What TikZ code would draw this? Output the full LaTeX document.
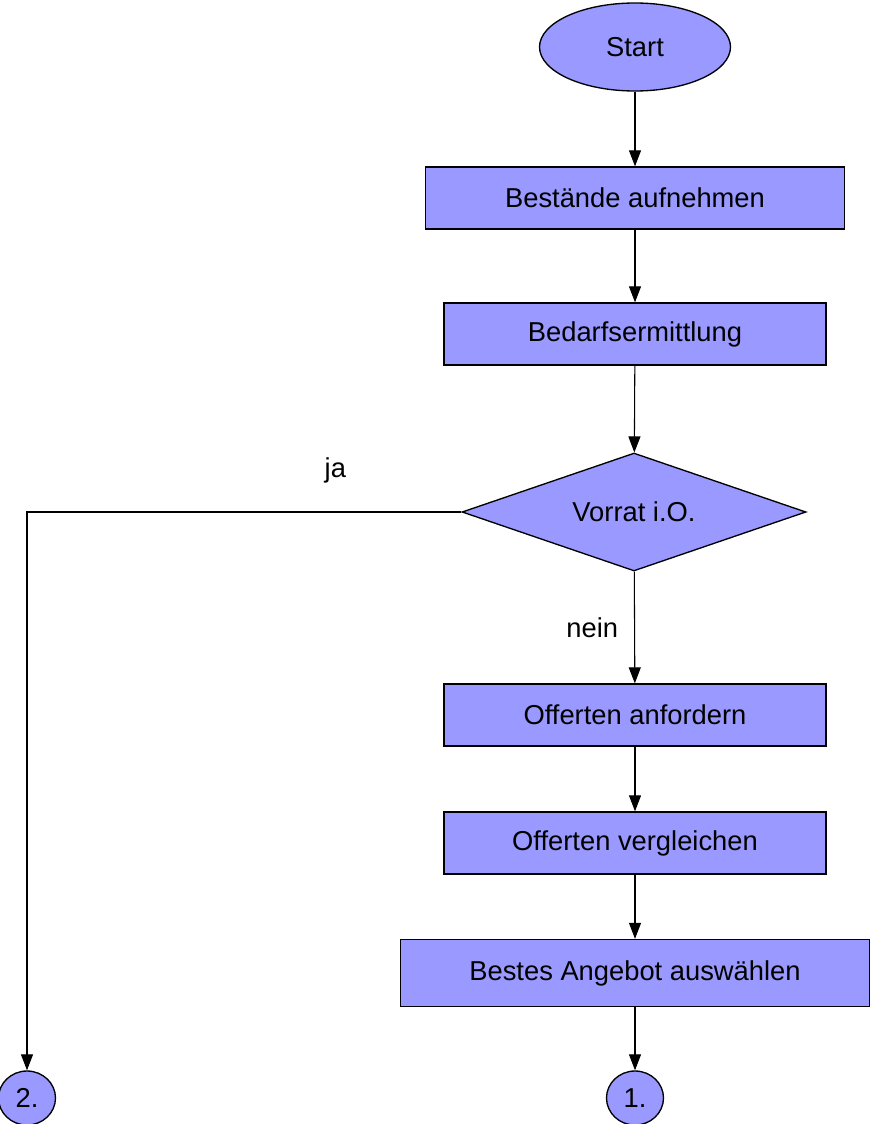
\documentclass[tikz,border=0pt]{standalone}
\usepackage{fontspec}
\setmainfont{Liberation Sans}
\usetikzlibrary{shapes.geometric,arrows.meta}
\definecolor{fillblau}{HTML}{9999FF}
\begin{document}
\begin{tikzpicture}[x=0.75pt, y=-0.75pt,
    every node/.style={font=\fontsize{20.5}{24}\selectfont},
    schritt/.style={rectangle, draw, fill=fillblau, line width=1pt,
      inner sep=0pt, minimum height=46.5pt},
    marke/.style={ellipse, draw, fill=fillblau, line width=1pt, inner sep=0pt},
    frage/.style={diamond, draw, fill=fillblau, line width=1pt, inner sep=0pt,
      aspect=2.9, minimum width=258pt, minimum height=88.5pt},
    lbl/.style={inner sep=0pt}]
  \useasboundingbox (0,0) rectangle (870,1124);
  % Ablauf
  \node[marke, minimum width=143.25pt, minimum height=66pt] (start) at (635,47) {Start};
  \node[schritt, minimum width=314.25pt] (best) at (635,198) {Bestände aufnehmen};
  \node[schritt, minimum width=286.5pt] (bedarf) at (635,334) {Bedarfsermittlung};
  \node[frage] (vorrat) at (634,512) {Vorrat i.O.};
  \node[schritt, minimum width=286.5pt] (anf) at (635,715) {Offerten anfordern};
  \node[schritt, minimum width=286.5pt] (vergl) at (635,843) {Offerten vergleichen};
  \node[schritt, minimum width=351.75pt, minimum height=50.25pt] (wahl) at (635,973) {Bestes Angebot auswählen};
  \node[marke, minimum width=42.75pt, minimum height=40.5pt] (eins) at (635,1098) {1.};
  \node[marke, minimum width=42.75pt, minimum height=40.5pt] (zwei) at (27,1098) {2.};
  \coordinate (knick) at (27,512);
  % Verbindungen
  \begin{scope}[-{Triangle[length=12pt, width=9pt]}, line width=0.8pt]
    \draw (start) -- (best);
    \draw (best) -- (bedarf);
    \draw (bedarf) -- (vorrat);
    \draw (vorrat) -- node[lbl, left=12pt] {nein} (anf);
    \draw (anf) -- (vergl);
    \draw (vergl) -- (wahl);
    \draw (wahl) -- (eins);
    \draw (vorrat.west) -- node[lbl, pos=0.29, yshift=31pt] {ja} (knick) -- (zwei);
  \end{scope}
\end{tikzpicture}
\end{document}
